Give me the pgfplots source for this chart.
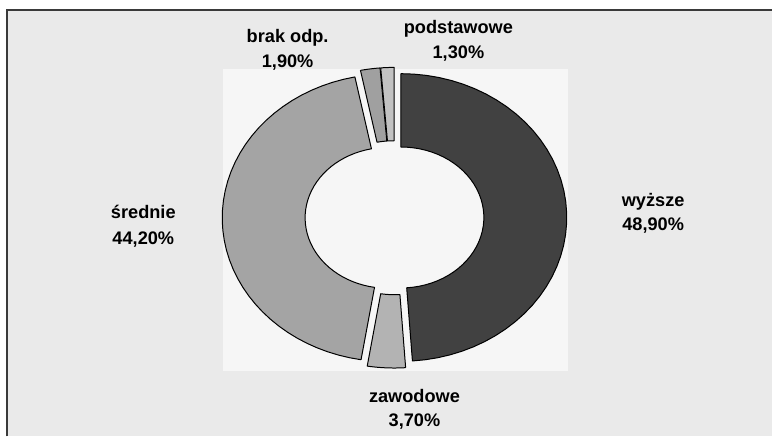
\documentclass[border=0pt]{standalone}
\usepackage{pgfplots}
\pgfplotsset{compat=1.18}
\usepackage{pgfplotstable}
\usepackage{fontspec}
\setmainfont{Liberation Sans}
\definecolor{bgc}{HTML}{EAEAEA}
\definecolor{plotc}{HTML}{F6F6F6}
\definecolor{framec}{HTML}{3A3A3A}
\definecolor{cwyz}{HTML}{414141}
\definecolor{czaw}{HTML}{B3B3B3}
\definecolor{csre}{HTML}{A4A4A4}
\definecolor{cbrak}{HTML}{A0A0A0}
\definecolor{cpod}{HTML}{C2C2C2}
\pgfplotstableread{
name value
wyzsze 48.9
zawodowe 3.7
srednie 44.2
brak 1.9
podstawowe 1.3
}\datatable
\newcommand\slice[3]{%
  \pgfmathsetmacro\smid{(#1+#2)/2}%
  \pgfmathsetmacro\sox{395+6.5*cos(\smid)}%
  \pgfmathsetmacro\soy{218-6.5*sin(\smid)}%
  \edef\temp{\noexpand\addplot[draw=black,line width=1pt,fill=#3,line join=round,
     samples at={0,1,...,40,100,101,...,140,200}]
     ({\sox+166*rfx(x)*cos(ang(x,#1,#2))},{\soy-144*rfy(x)*sin(ang(x,#1,#2))});}%
  \temp
}
\begin{document}
\begin{tikzpicture}
\pgfplotstablegetelem{0}{value}\of\datatable \let\vA\pgfplotsretval
\pgfplotstablegetelem{1}{value}\of\datatable \let\vB\pgfplotsretval
\pgfplotstablegetelem{2}{value}\of\datatable \let\vC\pgfplotsretval
\pgfplotstablegetelem{3}{value}\of\datatable \let\vD\pgfplotsretval
\pgfplotstablegetelem{4}{value}\of\datatable \let\vE\pgfplotsretval
\pgfmathsetmacro\aA{90}
\pgfmathsetmacro\aB{\aA-3.6*\vA}
\pgfmathsetmacro\aC{\aB-3.6*\vB}
\pgfmathsetmacro\aD{\aC-3.6*\vC}
\pgfmathsetmacro\aE{\aD-3.6*\vD}
\pgfmathsetmacro\aF{\aE-3.6*\vE}
\begin{axis}[width=773pt,height=437pt,scale only axis,
  xmin=0,xmax=773,ymin=0,ymax=437,y dir=reverse,
  axis lines=none,clip=false,
  declare function={
    rfx(\t)=(\t<70)?1:((\t<170)?0.5:1);
    rfy(\t)=(\t<70)?1:((\t<170)?0.49:1);
    ang(\t,\a,\b)=(\t<70)?(\a+(\b-\a)*\t/40):((\t<170)?(\b+(\a-\b)*(\t-100)/40):\a);
  }]
\fill[white] (axis cs:0,0) rectangle (axis cs:773,437);
\fill[bgc] (axis cs:7.5,10.5) rectangle (axis cs:773,437);
\draw[line width=2pt,framec] (axis cs:7.5,437) -- (axis cs:7.5,10.5) -- (axis cs:773,10.5);
\fill[plotc] (axis cs:223,69) rectangle (axis cs:569,371);
\slice{\aA}{\aB}{cwyz}
\slice{\aB}{\aC}{czaw}
\slice{\aC}{\aD}{csre}
\slice{\aD}{\aE}{cbrak}
\slice{\aE}{\aF}{cpod}
\begin{scope}[every node/.style={anchor=base,font=\fontsize{18.2}{21}\selectfont\bfseries,text=black,inner sep=0pt}]
\node at (axis cs:459,34) {podstawowe};
\node at (axis cs:459,59) {1,30\%};
\node at (axis cs:288,43) {brak odp.};
\node at (axis cs:288,67.5) {1,90\%};
\node at (axis cs:654,206.5) {wyższe};
\node at (axis cs:654,230.5) {48,90\%};
\node at (axis cs:143.5,219) {średnie};
\node at (axis cs:143.5,244.5) {44,20\%};
\node at (axis cs:415,403) {zawodowe};
\node at (axis cs:415,427) {3,70\%};
\end{scope}
\end{axis}
\end{tikzpicture}
\end{document}
